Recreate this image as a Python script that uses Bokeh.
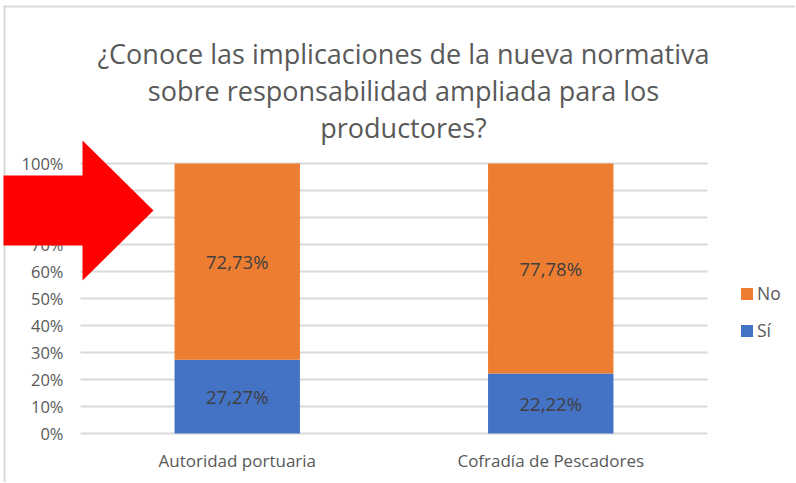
from bokeh.plotting import figure
from bokeh.models import (ColumnDataSource, Range1d, FixedTicker, PrintfTickFormatter,
                          LabelSet, Label, Legend, LegendItem, PolyAnnotation)
from bokeh.core.properties import value
from bokeh.embed import file_html
from bokeh.resources import INLINE

categories = ["Autoridad portuaria", "Cofradía de Pescadores"]
si_values = [27.27, 22.22]
no_values = [72.73, 77.78]
series_names = ["Sí", "No"]
y_ticks = [0, 10, 20, 30, 40, 50, 60, 70, 80, 90, 100]
title_lines = ["¿Conoce las implicaciones de la nueva normativa",
               "sobre responsabilidad ampliada para los",
               "productores?"]

FONT = "Open Sans"
ORANGE = "#ED7D31"
BLUE = "#4472C4"
GRID = "#D9D9D9"
TXT = "#595959"

W, H = 795, 482

def fmt(v):
    return f"{v:.2f}".replace(".", ",") + "%"

xpos = [i + 0.5 for i in range(len(categories))]
src = ColumnDataSource(dict(
    x=xpos,
    si=si_values,
    no=no_values,
    si_mid=[s / 2 for s in si_values],
    no_mid=[s + n / 2 for s, n in zip(si_values, no_values)],
    si_lbl=[fmt(v) for v in si_values],
    no_lbl=[fmt(v) for v in no_values],
))

# plot frame covers the whole canvas; the category band (0..n) spans canvas px 80..707,
# the value band 0..100 spans canvas px 433..163
px_per_x = 627 / len(categories)
px_per_y = 2.7
x_range = Range1d(-80 / px_per_x, len(categories) + (W - 707) / px_per_x)
y_range = Range1d(-(H - 433) / px_per_y, 100 + 163 / px_per_y)

p = figure(x_range=x_range, y_range=y_range, width=W, height=H, min_border=0,
           output_backend="svg", toolbar_location=None, tools="")
p.title = None
p.outline_line_color = None
p.background_fill_color = "white"
p.border_fill_color = "white"
p.grid.visible = False

# gridlines
gsrc = ColumnDataSource(dict(y=y_ticks, x0=[0] * len(y_ticks), x1=[len(categories)] * len(y_ticks)))
p.segment(x0="x0", x1="x1", y0="y", y1="y", source=gsrc, line_color=GRID, line_width=2)

r = p.vbar_stack(["si", "no"], x="x", width=0.4, source=src, color=[BLUE, ORANGE],
                 line_color=None)

for col, ycol in (("si_lbl", "si_mid"), ("no_lbl", "no_mid")):
    p.add_layout(LabelSet(x="x", y=ycol, text=col, source=src, text_align="center",
                          text_baseline="middle", text_font=value(FONT),
                          text_font_size=value("18.5px"), text_color=value("#404040")))

yax = p.yaxis[0]
xax = p.xaxis[0]
yax.fixed_location = 0
xax.fixed_location = 0
yax.ticker = FixedTicker(ticks=y_ticks)
yax.formatter = PrintfTickFormatter(format="%d%%")
xax.ticker = FixedTicker(ticks=xpos)
xax.major_label_overrides = {x: c for x, c in zip(xpos, categories)}
for ax in (xax, yax):
    ax.axis_line_color = None
    ax.major_tick_line_color = None
    ax.minor_tick_line_color = None
    ax.major_tick_out = 0
    ax.major_tick_in = 0
    ax.major_label_text_font = FONT
    ax.major_label_text_color = TXT
yax.major_label_text_font_size = "16.5px"
xax.major_label_text_font_size = "17px"
yax.major_label_standoff = 17
xax.major_label_standoff = 15

# title (three centred lines)
for line, base in zip(title_lines, [53, 90, 127]):
    p.add_layout(Label(x=403, y=base, x_units="canvas", y_units="canvas", text=line,
                       text_align="center", text_baseline="alphabetic", text_font=FONT,
                       text_font_size="27px", text_color=TXT))

legend = Legend(items=[LegendItem(label=series_names[1], renderers=[r[1]]),
                       LegendItem(label=series_names[0], renderers=[r[0]])],
                location=(739, 140), border_line_color=None, background_fill_alpha=0,
                padding=0, margin=0, glyph_width=15, glyph_height=15, label_height=15,
                spacing=13, label_text_font=FONT, label_text_font_size="17.5px",
                label_text_color=TXT, label_standoff=3)
p.add_layout(legend, "center")

# chart-area border (decoration)
p.add_layout(PolyAnnotation(xs=[3, 5, 5, 3], ys=[5, 5, H, H], xs_units="canvas", ys_units="canvas",
                            fill_color=GRID, fill_alpha=1, line_color=None, level="underlay"))
p.add_layout(PolyAnnotation(xs=[3, W, W, 3], ys=[5, 5, 7, 7], xs_units="canvas", ys_units="canvas",
                            fill_color=GRID, fill_alpha=1, line_color=None, level="underlay"))
# red arrow drawn over the chart (decoration)
p.add_layout(PolyAnnotation(xs=[3, 82, 82, 153, 82, 82, 3], ys=[175, 175, 140, 210, 280, 245, 245],
                            xs_units="canvas", ys_units="canvas", fill_color="#FF0000", fill_alpha=1,
                            line_color=None, level="overlay"))

open("out.html", "w").write(file_html(p, INLINE))
